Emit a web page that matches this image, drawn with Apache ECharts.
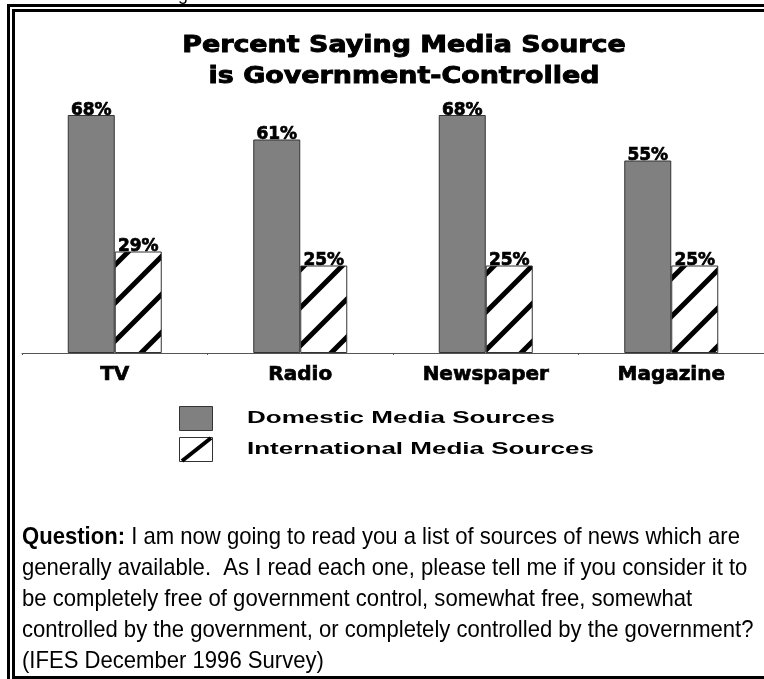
<!DOCTYPE html>
<html>
<head>
<meta charset="utf-8">
<script src="https://cdn.jsdelivr.net/npm/echarts@6/dist/echarts.min.js"></script>
<style>
  html, body { margin: 0; padding: 0; background: #fff; }
  #chart { width: 764px; height: 679px; }
</style>
</head>
<body>
<div id="chart"></div>
<script>
// Media sources and the share of respondents calling each government-controlled (%)
const categories = ['TV', 'Radio', 'Newspaper', 'Magazine'];
const domesticValues = [68, 61, 68, 55];
const internationalValues = [29, 25, 25, 25];
const seriesNames = ['Domestic Media Sources', 'International Media Sources'];
const titleLines = ['Percent Saying Media Source', 'is Government-Controlled'];
const questionLabel = 'Question:';
const questionLines = [
  ' I am now going to read you a list of sources of news which are',
  'generally available.  As I read each one, please tell me if you consider it to',
  'be completely free of government control, somewhat free, somewhat',
  'controlled by the government, or completely controlled by the government?',
  '(IFES December 1996 Survey)'
];

// Diagonal hatch tile used for the international bars
function makeHatch(size, lineWidth) {
  const c = document.createElement('canvas');
  c.width = size; c.height = size;
  const ctx = c.getContext('2d');
  ctx.fillStyle = '#ffffff';
  ctx.fillRect(0, 0, size, size);
  ctx.strokeStyle = '#000000';
  ctx.lineWidth = lineWidth;
  ctx.beginPath();
  [0, size, size * 2].forEach(function (k) {
    ctx.moveTo(k - size - 10, size + 10);
    ctx.lineTo(k + 10, -10);
  });
  ctx.stroke();
  return c;
}
const hatch = makeHatch(38, 5);

const chart = echarts.init(document.getElementById('chart'), null, { renderer: 'canvas' });

const labelStyle = {
  show: true,
  position: 'top',
  distance: -4,
  color: '#000',
  fontFamily: 'DejaVu Sans',
  fontWeight: 'bold',
  fontSize: 17,
  textBorderColor: '#000',
  textBorderWidth: 0.7,
  formatter: '{c}%'
};

const heavyTitle = {
  fontFamily: 'DejaVu Sans', fontWeight: 'bold', fontSize: 23,
  fill: '#000', stroke: '#000', lineWidth: 0.9,
  textAlign: 'center', textVerticalAlign: 'middle'
};

chart.setOption({
  backgroundColor: '#ffffff',
  animation: false,
  grid: { left: 22, width: 744, top: 73, height: 280, containLabel: false },
  xAxis: {
    type: 'category',
    data: categories,
    boundaryGap: true,
    axisLine: { show: true, lineStyle: { color: '#555', width: 1 } },
    axisTick: { show: true, length: 2, lineStyle: { color: '#555' } },
    axisLabel: {
      margin: 12,
      color: '#000',
      fontFamily: 'DejaVu Sans',
      fontWeight: 'bold',
      fontSize: 20,
      textBorderColor: '#000',
      textBorderWidth: 0.7
    }
  },
  yAxis: {
    type: 'value', min: 0, max: 80,
    show: false,
    splitLine: { show: false }
  },
  series: [
    {
      name: seriesNames[0],
      type: 'bar',
      data: domesticValues,
      barWidth: 47,
      barGap: '0%',
      itemStyle: { color: '#808080', borderColor: '#333', borderWidth: 1 },
      label: labelStyle
    },
    {
      name: seriesNames[1],
      type: 'bar',
      data: internationalValues,
      barWidth: 47,
      itemStyle: { color: { image: hatch, repeat: 'repeat' }, borderColor: '#333', borderWidth: 1 },
      label: labelStyle
    }
  ],
  graphic: [
    // double frame
    { type: 'rect', silent: true, shape: { x: 8.5, y: 5.5, width: 800, height: 700 },
      style: { fill: 'none', stroke: '#000', lineWidth: 3 } },
    { type: 'rect', silent: true, shape: { x: 13.5, y: 10.5, width: 790, height: 667 },
      style: { fill: 'none', stroke: '#000', lineWidth: 3 } },
    // tail of the line above the frame
    { type: 'text', silent: true, x: 178, y: -14,
      style: { text: 'g', fontFamily: 'Liberation Sans', fontSize: 18, fill: '#000', textVerticalAlign: 'top' } },
    // title
    { type: 'text', silent: true, x: 404, y: 46, scaleX: 1.17,
      style: Object.assign({ text: titleLines[0] }, heavyTitle) },
    { type: 'text', silent: true, x: 404, y: 77, scaleX: 1.17,
      style: Object.assign({ text: titleLines[1] }, heavyTitle) },
    // legend
    { type: 'rect', silent: true, shape: { x: 179.5, y: 406.5, width: 33, height: 24 },
      style: { fill: '#808080', stroke: '#333', lineWidth: 1 } },
    { type: 'rect', silent: true, shape: { x: 179.5, y: 437.5, width: 33, height: 24 },
      style: { fill: '#fff', stroke: '#333', lineWidth: 1 } },
    { type: 'line', silent: true, shape: { x1: 182, y1: 461, x2: 211, y2: 438 },
      style: { stroke: '#000', lineWidth: 4 } },
    { type: 'text', silent: true, x: 247, y: 418, scaleX: 1.53,
      style: { text: seriesNames[0], fontFamily: 'Liberation Sans', fontWeight: 'bold', fontSize: 17,
               fill: '#000', textVerticalAlign: 'middle' } },
    { type: 'text', silent: true, x: 247, y: 449, scaleX: 1.53,
      style: { text: seriesNames[1], fontFamily: 'Liberation Sans', fontWeight: 'bold', fontSize: 17,
               fill: '#000', textVerticalAlign: 'middle' } },
    // question wording
    { type: 'text', silent: true, x: 22, y: 522, scaleX: 0.92,
      style: {
        text: '{b|' + questionLabel + '}' + questionLines.join('\n'),
        fontFamily: 'Liberation Sans', fontSize: 24, lineHeight: 31, fill: '#000',
        textVerticalAlign: 'top',
        rich: { b: { fontFamily: 'Liberation Sans', fontWeight: 'bold', fontSize: 24, lineHeight: 31, fill: '#000' } }
      } }
  ]
});
</script>
</body>
</html>
